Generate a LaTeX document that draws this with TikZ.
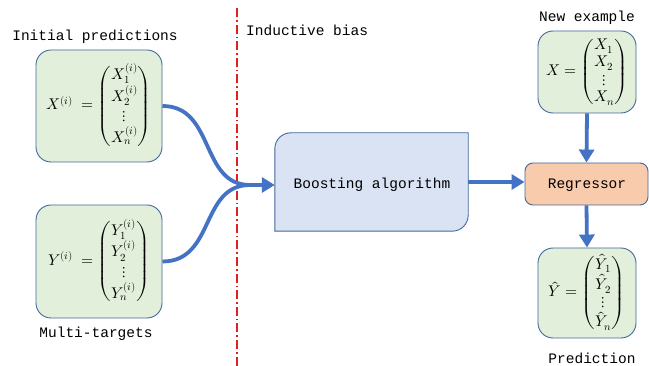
\documentclass[tikz,border=0pt]{standalone}
\usepackage{amsmath}
\usepackage{fontspec}
\usepackage{unicode-math}
\setmathfont{Latin Modern Math}
\setmonofont{Liberation Mono}
\usetikzlibrary{arrows.meta}
\definecolor{gfill}{HTML}{E2EFDA}
\definecolor{bfill}{HTML}{DAE3F3}
\definecolor{ofill}{HTML}{F8CBAD}
\definecolor{bord}{HTML}{41679C}
\definecolor{conc}{HTML}{4472C4}
\definecolor{redl}{HTML}{E02020}
\tikzset{
  greenbox/.style={draw=bord, fill=gfill, line width=0.9pt, rounded corners=15pt, inner sep=0pt},
  lbl/.style={font=\fontsize{14.5}{16}\selectfont\ttfamily, inner sep=0pt},
  mathtxt/.style={font=\fontsize{15.5}{15.5}\selectfont, inner sep=0pt},
  conn/.style={draw=conc, line width=3.8pt},
  arr/.style={conn, -{Triangle[length=13pt,width=15pt]}},
}
\newcommand{\mvec}[1]{\renewcommand{\arraystretch}{1.25}\setlength{\arraycolsep}{1pt}\begin{pmatrix}#1\end{pmatrix}}
\newcommand{\mvecs}[1]{\renewcommand{\arraystretch}{1.12}\setlength{\arraycolsep}{1pt}\begin{pmatrix}#1\end{pmatrix}}
\begin{document}
\begin{tikzpicture}[x=1pt,y=-1pt]
\useasboundingbox (0,0) rectangle (649,366);
% red separator
\draw[redl, line width=2pt, dash pattern=on 9pt off 3pt on 1.6pt off 3pt] (237,8) -- (237,366);
\node[lbl, anchor=west] (ib) at (246,30) {Inductive bias};

% left boxes
\node[greenbox, minimum width=126pt, minimum height=112pt] (xb) at (99,106) {};
\node[mathtxt] (xm) at (xb.center) {$X^{(i)}\;=\mvec{X_1^{(i)}\\ X_2^{(i)}\\ \vdots\\ X_n^{(i)}}$};
\node[lbl] (ip) at (95,37) {Initial predictions};

\node[greenbox, minimum width=126pt, minimum height=113pt] (yb) at (99,261.5) {};
\node[mathtxt] (ym) at (yb.center) {$Y^{(i)}\;=\mvec{Y_1^{(i)}\\ Y_2^{(i)}\\ \vdots\\ Y_n^{(i)}}$};
\node[lbl] (mt) at (96,334) {Multi-targets};

% boosting box
\node[minimum width=193pt, minimum height=98pt, inner sep=0pt] (boost) at (371.5,182) {};
\draw[draw=bord, fill=bfill, line width=0.9pt]
  (boost.west) [rounded corners=16pt] -- (boost.north west) -- (boost.north) [sharp corners] -- (boost.north east) -- (boost.east)
  [rounded corners=16pt] -- (boost.south east) -- (boost.south) [sharp corners] -- (boost.south west) -- cycle;
\node[lbl] (bt) at (372,185) {Boosting algorithm};

% merging curves
\coordinate (merge) at (250,185);
\draw[conn] (xb.east) .. controls (215,106) and (200,185) .. (merge);
\draw[conn] (yb.east) .. controls (215,261.5) and (200,185) .. (merge);
\draw[arr] (merge) -- (boost.west |- merge);

% right column
\node[greenbox, minimum width=98pt, minimum height=82pt] (nb) at (587,72) {};
\node[mathtxt] (nm) at (nb.center) {$X=\mvecs{X_1\\ X_2\\ \vdots\\ X_n}$};
\node[lbl] (ne) at (587,18) {New example};

\node[draw=bord, fill=ofill, line width=0.9pt, rounded corners=8pt, minimum width=123pt, minimum height=42pt, inner sep=0pt] (reg) at (586.5,184) {};
\node[lbl] (rt) at (587,185) {Regressor};

\node[greenbox, minimum width=98pt, minimum height=90pt] (pb) at (587,293) {};
\node[mathtxt] (pm) at (pb.center) {$\hat{Y}=\mvecs{\hat{Y}_1\\ \hat{Y}_2\\ \vdots\\ \hat{Y}_n}$};
\node[lbl] (pr) at (592,358) {Prediction};

\draw[arr] (boost.east |- 0,182) -- (reg.west |- 0,182);
\draw[arr] (nb.south) -- (reg.north);
\draw[arr] (reg.south) -- (pb.north);
\end{tikzpicture}
\end{document}
